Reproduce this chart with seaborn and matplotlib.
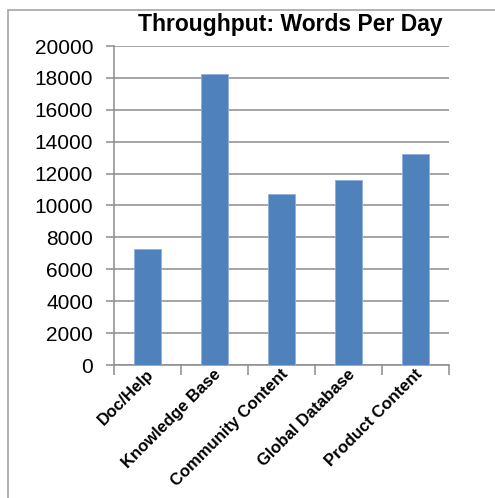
import pandas as pd
import seaborn as sns
import matplotlib.pyplot as plt
from matplotlib.lines import Line2D

# données
categories = ['Doc/Help', 'Knowledge Base', 'Community Content', 'Global Database', 'Product Content']
mots_par_jour = [7250, 18250, 10750, 11600, 13200]
yticks = list(range(0, 20001, 2000))

df = pd.DataFrame({'Categorie': categories, 'Mots': mots_par_jour})

sns.set_style('white')
plt.rcParams['font.family'] = ['Liberation Sans', 'DejaVu Sans']
plt.rcParams['text.color'] = 'black'

fig = plt.figure(figsize=(4.95, 4.98), dpi=100)
ax = fig.add_axes([114 / 495, 1 - 365 / 498, 335 / 495, 319 / 498])

sns.barplot(data=df, x='Categorie', y='Mots', color='#4F81BD', saturation=1, width=0.39,
            edgecolor='#8DB0DB', linewidth=0.6, ax=ax, zorder=3)

ax.set_ylim(0, 20000)
ax.set_xlim(-0.5, len(categories) - 0.5)
ax.set_yticks(yticks)
ax.set_yticklabels([str(v) for v in yticks], fontsize=15)
ax.yaxis.grid(True, color='#8C8C8C', linewidth=1.1, zorder=0)
ax.set_axisbelow(True)
ax.tick_params(axis='y', length=6, width=1.1, color='#8C8C8C', pad=9, left=True,
               labelcolor='black')

# graduations x entre les catégories
ax.set_xticks([i - 0.5 for i in range(len(categories) + 1)])
ax.set_xticklabels([])
ax.tick_params(axis='x', length=7, width=1.1, color='#8C8C8C', bottom=True)
for i, lab in enumerate(categories):
    ax.text(i - 0.02, -80, lab, rotation=45, ha='right', va='top',
            rotation_mode='anchor', fontsize=12, fontweight='bold',
            color='black', transform=ax.transData)

ax.set_xlabel('')
ax.set_ylabel('')
for s in ['top', 'right']:
    ax.spines[s].set_visible(False)
for s in ['left', 'bottom']:
    ax.spines[s].set_color('#8C8C8C')
    ax.spines[s].set_linewidth(1.1)

fig.text(290 / 495, 1 - 25 / 498, 'Throughput: Words Per Day', ha='center', va='center',
         fontsize=16.5, fontweight='bold', color='black')

# cadre du graphique
fig.add_artist(Line2D([8 / 495, 8 / 495], [0, 1 - 10 / 498], transform=fig.transFigure,
                      color='#A6A6A6', linewidth=1.2))
fig.add_artist(Line2D([8 / 495, 1], [1 - 10 / 498, 1 - 10 / 498], transform=fig.transFigure,
                      color='#A6A6A6', linewidth=1.2))

fig.savefig('out.png', dpi=100)
